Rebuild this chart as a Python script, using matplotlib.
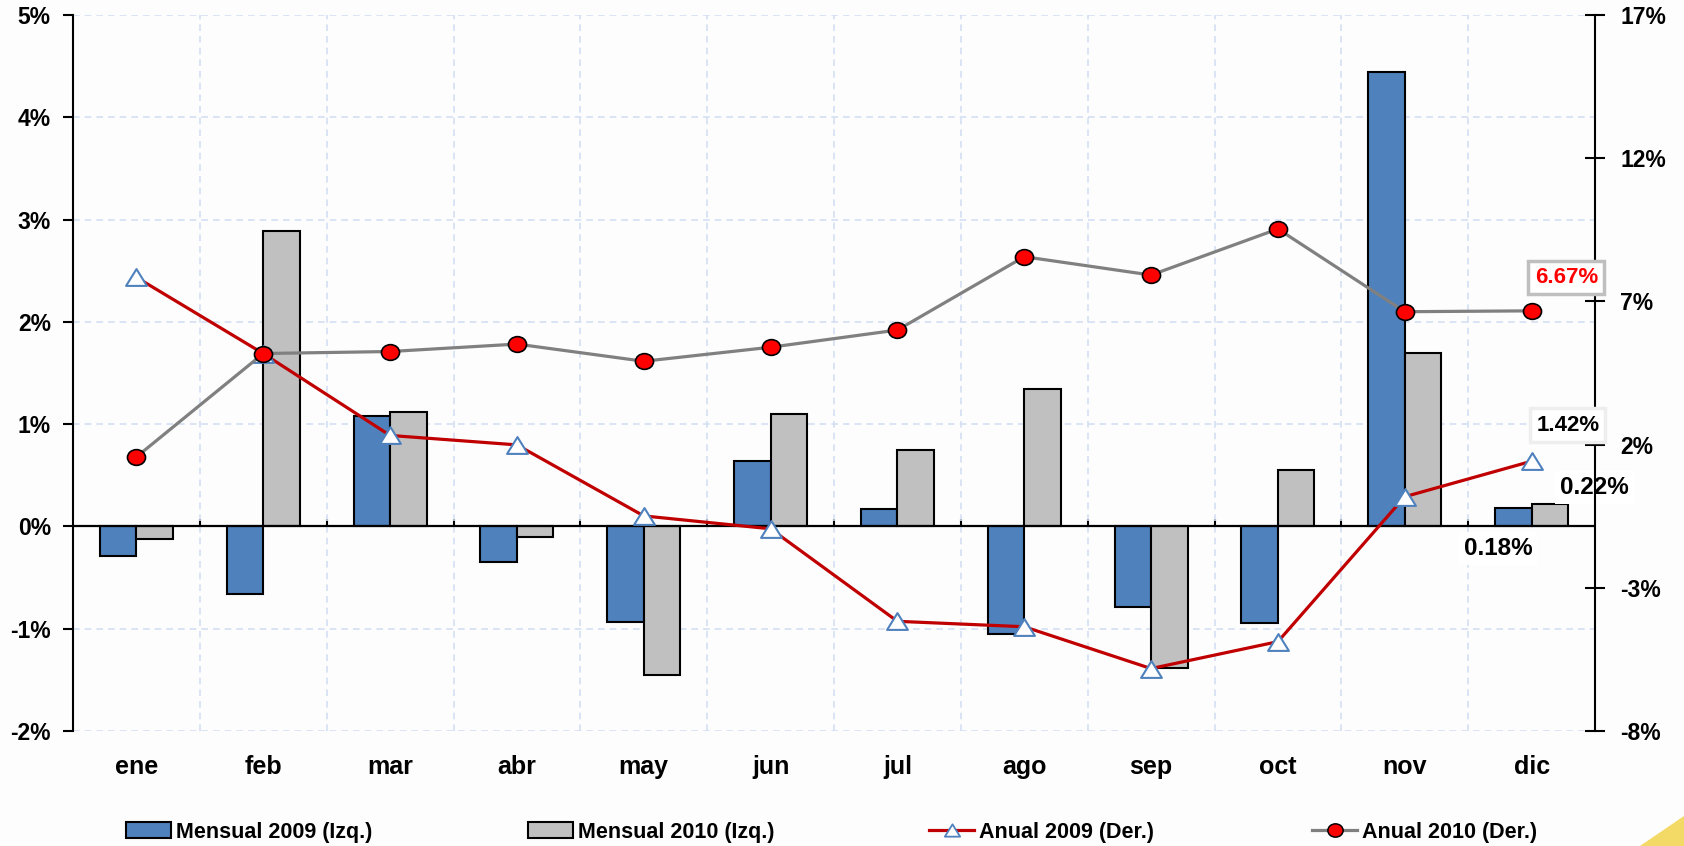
import matplotlib
matplotlib.use("Agg")
import matplotlib.pyplot as plt
from matplotlib.patches import Patch, Polygon
from matplotlib.lines import Line2D
from matplotlib.path import Path
from matplotlib.transforms import Affine2D
import numpy as np

plt.rcParams['font.family'] = ['Liberation Sans', 'DejaVu Sans']
plt.rcParams['font.weight'] = 'bold'

# ---- data -------------------------------------------------------------
months = ['ene', 'feb', 'mar', 'abr', 'may', 'jun',
          'jul', 'ago', 'sep', 'oct', 'nov', 'dic']

mensual_2009 = [-0.29, -0.66, 1.08, -0.35, -0.93, 0.64,
                0.17, -1.05, -0.79, -0.94, 4.44, 0.18]
mensual_2010 = [-0.12, 2.89, 1.12, -0.10, -1.45, 1.10,
                0.75, 1.34, -1.38, 0.55, 1.70, 0.22]
anual_2009 = [7.84, 5.18, 2.32, 1.99, -0.49, -0.94,
              -4.17, -4.36, -5.82, -4.88, 0.18, 1.42]
anual_2010 = [1.57, 5.18, 5.25, 5.51, 4.91, 5.40,
              6.00, 8.56, 7.92, 9.53, 6.64, 6.67]

left_ticks = [-2, -1, 0, 1, 2, 3, 4, 5]
right_ticks = [-8, -3, 2, 7, 12, 17]

legend_labels = ['Mensual 2009 (Izq.)', 'Mensual 2010 (Izq.)',
                 'Anual 2009 (Der.)', 'Anual 2010 (Der.)']

# ---- style ------------------------------------------------------------
BLUE = '#4F81BD'
GREY_BAR = '#C0C0C0'
RED_LINE = '#C00000'
GREY_LINE = '#808080'
GRID = '#D3DFF3'

# slightly wide markers
ellipse = Path.unit_circle().transformed(Affine2D().scale(1.15, 1.0))
tri = Path([(-1.24, -1.0), (1.24, -1.0), (0.0, 1.0), (-1.24, -1.0)],
           [Path.MOVETO, Path.LINETO, Path.LINETO, Path.CLOSEPOLY])

fig = plt.figure(figsize=(16.84, 8.46), dpi=100, facecolor='#FDFDFD')
ax = fig.add_axes([73 / 1684, 1 - 731 / 846, (1595 - 73) / 1684, (731 - 15) / 846])
ax.set_facecolor('#FDFDFD')

x = np.arange(len(months))
bw = 0.288

ax.bar(x - bw / 2, mensual_2009, width=bw, color=BLUE, edgecolor='black',
       linewidth=1.5, zorder=3)
ax.bar(x + bw / 2, mensual_2010, width=bw, color=GREY_BAR, edgecolor='black',
       linewidth=1.5, zorder=3)
ax.axhline(0, color='black', linewidth=1.6, zorder=3.5)

ymin, ymax = left_ticks[0], left_ticks[-1]
ax.set_ylim(ymin, ymax)
ax.set_xlim(-0.5, len(months) - 0.5)
ax.set_yticks(left_ticks)
ax.set_yticklabels([f'{t}%' for t in left_ticks])
ax.tick_params(axis='y', direction='out', length=7, width=1.5, pad=9,
               labelsize=16.5)

ax.set_xticks(x)
ax.set_xticklabels(months, fontsize=18)
ax.tick_params(axis='x', which='major', length=0, pad=17)
ax.set_xticks(np.arange(len(months) - 1) + 0.5, minor=True)
ax.tick_params(axis='x', which='minor', length=0)

ax.grid(which='major', axis='y', color=GRID, linestyle=(0, (4, 3)), linewidth=1.2)
ax.grid(which='minor', axis='x', color=GRID, linestyle=(0, (4, 3)), linewidth=1.2)
ax.set_axisbelow(True)

for s in ('top', 'bottom', 'right'):
    ax.spines[s].set_visible(False)
ax.spines['left'].set_linewidth(1.5)

# tick marks on the zero line at the month boundaries
zero = ax.secondary_xaxis((0 - ymin) / (ymax - ymin))
zero.set_xticks(np.arange(len(months) - 1) + 0.5)
zero.tick_params(direction='in', length=5, width=1.5, labelbottom=False)
zero.spines['bottom'].set_visible(False)

# ---- right axis: annual rates ----------------------------------------
ax2 = ax.twinx()
ax2.set_ylim(right_ticks[0], right_ticks[-1])
ax2.set_yticks(right_ticks)
ax2.set_yticklabels([f'{t}%' for t in right_ticks])
ax2.tick_params(axis='y', direction='inout', length=14, width=1.5, pad=11,
                labelsize=16.5)
for s in ('top', 'bottom', 'left'):
    ax2.spines[s].set_visible(False)
ax2.spines['right'].set_linewidth(1.5)

ax2.plot(x, anual_2009, color=RED_LINE, linewidth=2.3, marker=tri,
         markersize=15, markerfacecolor='white', markeredgecolor=BLUE,
         markeredgewidth=1.5, zorder=4)
ax2.plot(x, anual_2010, color=GREY_LINE, linewidth=2.3, marker=ellipse,
         markersize=13, markerfacecolor='#FF0000', markeredgecolor='black',
         markeredgewidth=1.2, zorder=5)

# value labels for the last month
last = len(months) - 1
ax2.annotate(f'{anual_2010[last]:.2f}%', xy=(last, anual_2010[last]),
             xytext=(25, 24), textcoords='offset points', ha='center',
             va='center', fontsize=16, color='#FF0000', fontweight='bold',
             bbox=dict(boxstyle='square,pad=0.28', facecolor='white',
                       edgecolor='#BFBFBF', linewidth=2.5))
ax2.annotate(f'{anual_2009[last]:.2f}%', xy=(last, anual_2009[last]),
             xytext=(26, 26), textcoords='offset points', ha='center',
             va='center', fontsize=16, color='black', fontweight='bold',
             bbox=dict(boxstyle='square,pad=0.28', facecolor='white',
                       edgecolor='#EEEEEE', linewidth=2.5))
ax.annotate(f'{mensual_2010[last]:.2f}%', xy=(last + bw / 2, mensual_2010[last]),
            xytext=(32, 12), textcoords='offset points', ha='center',
            va='center', fontsize=17.5, color='black', fontweight='bold',
            bbox=dict(boxstyle='square,pad=0.2', facecolor='white',
                      edgecolor='none'), zorder=6)
ax.annotate(f'{mensual_2009[last]:.2f}%', xy=(last - bw / 2, mensual_2009[last]),
            xytext=(-11, -29), textcoords='offset points', ha='center',
            va='center', fontsize=17.5, color='black', fontweight='bold',
            bbox=dict(boxstyle='square,pad=0.2', facecolor='white',
                      edgecolor='none'), zorder=6)

# ---- legend -----------------------------------------------------------
handles = [
    Patch(facecolor=BLUE, edgecolor='black', linewidth=1.5),
    Patch(facecolor=GREY_BAR, edgecolor='black', linewidth=1.5),
    Line2D([], [], color=RED_LINE, linewidth=2.3, marker=tri, markersize=11,
           markerfacecolor='white', markeredgecolor=BLUE, markeredgewidth=1.3),
    Line2D([], [], color=GREY_LINE, linewidth=2.3, marker=ellipse, markersize=11,
           markerfacecolor='#FF0000', markeredgecolor='black', markeredgewidth=1.1),
]
starts = [126, 528, 929, 1312]
for h, lab, sx in zip(handles, legend_labels, starts):
    fig.legend([h], [lab], loc='center left', bbox_to_anchor=(sx / 1684, 1 - 832 / 846),
               frameon=False, borderpad=0, borderaxespad=0, handlelength=2.1,
               handletextpad=0.2, prop={'size': 15.5, 'weight': 'bold'})

# small yellow accent in the corner
fig.patches.append(Polygon([(1640 / 1684, 0), (1684 / 1684, 30 / 846), (1, 0)],
                           closed=True, transform=fig.transFigure,
                           facecolor='#F2D34A', edgecolor='none', alpha=0.85))

fig.savefig('out.png', dpi=100, facecolor=fig.get_facecolor())
